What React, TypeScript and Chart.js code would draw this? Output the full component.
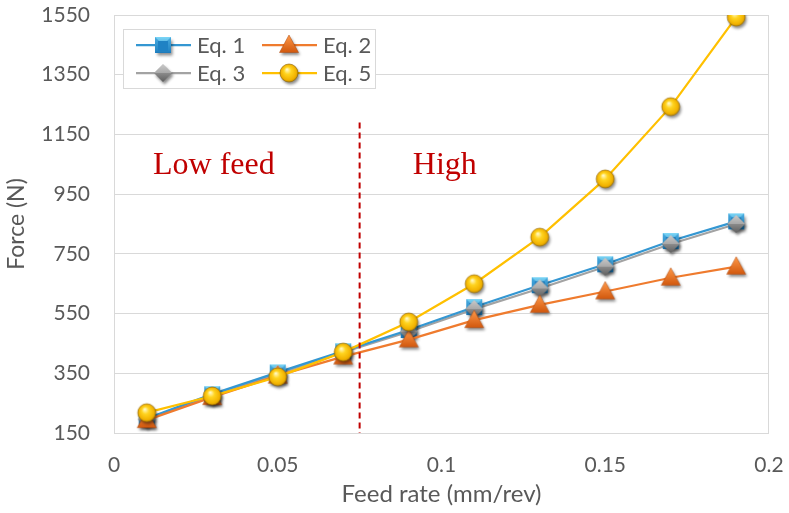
import React, { useEffect, useRef } from 'react';
import { Chart, registerables } from 'chart.js';

Chart.register(...registerables);

const feedRates = [0.01, 0.03, 0.05, 0.07, 0.09, 0.11, 0.13, 0.15, 0.17, 0.19];
const eq1 = [198, 280, 353, 424, 495, 572, 645, 715, 793, 859];
const eq2 = [193, 270, 342, 406, 463, 528, 579, 624, 670, 707];
const eq3 = [196, 276, 348, 421, 489, 565, 634, 707, 783, 850];
const eq5 = [218, 274, 338, 421, 522, 650, 806, 1001, 1243, 1543];

const seriesNames = ['Eq. 1', 'Eq. 2', 'Eq. 3', 'Eq. 5'];
const xTicks = [0, 0.05, 0.1, 0.15, 0.2];
const yTicks = [150, 350, 550, 750, 950, 1150, 1350, 1550];

const boundaryFeed = 0.075;
const boundaryTop = 1190;
const regionLabels = ['Low feed', 'High'];
const regionLabelX = [0.0305, 0.101];
const regionLabelY = 1046;

const BLUE = '#3497D2';
const ORANGE = '#EF7B2E';
const GRAY = '#A3A3A3';
const GOLD = '#FFC000';
const TEXT = '#595959';
const GRID = '#D9D9D9';
const FONT = 'Lato, "Open Sans", sans-serif';

function makeMarker(kind: string): HTMLCanvasElement {
  const size = 30;
  const c = document.createElement('canvas');
  c.width = size;
  c.height = size;
  const ctx = c.getContext('2d') as CanvasRenderingContext2D;
  const m = size / 2;
  const shape = () => {
    ctx.beginPath();
    if (kind === 'square') {
      ctx.rect(m - 8, m - 8, 16, 16);
    } else if (kind === 'diamond') {
      ctx.moveTo(m, m - 9);
      ctx.lineTo(m + 9, m);
      ctx.lineTo(m, m + 9);
      ctx.lineTo(m - 9, m);
      ctx.closePath();
    } else if (kind === 'triangle') {
      ctx.moveTo(m, m - 10);
      ctx.lineTo(m + 9.5, m + 7.5);
      ctx.lineTo(m - 9.5, m + 7.5);
      ctx.closePath();
    } else {
      ctx.arc(m, m, 9, 0, Math.PI * 2);
    }
  };
  ctx.save();
  ctx.shadowColor = 'rgba(0,0,0,0.45)';
  ctx.shadowBlur = 3;
  ctx.shadowOffsetX = 1.5;
  ctx.shadowOffsetY = 2.5;
  shape();
  let g: CanvasGradient;
  if (kind === 'square') {
    g = ctx.createLinearGradient(0, m - 8, 0, m + 8);
    g.addColorStop(0, '#7BD6F7');
    g.addColorStop(1, '#1B79BA');
  } else if (kind === 'diamond') {
    g = ctx.createLinearGradient(0, m - 9, 0, m + 9);
    g.addColorStop(0, '#B8B8B8');
    g.addColorStop(1, '#5E5E5E');
  } else if (kind === 'triangle') {
    g = ctx.createLinearGradient(0, m - 10, 0, m + 8);
    g.addColorStop(0, '#FF9A4A');
    g.addColorStop(1, '#D0560C');
  } else {
    g = ctx.createRadialGradient(m - 2, m - 3.5, 0.5, m, m, 9.5);
    g.addColorStop(0, '#FFF8C0');
    g.addColorStop(0.35, '#FFD420');
    g.addColorStop(0.8, '#F2B200');
    g.addColorStop(1, '#B88600');
  }
  ctx.fillStyle = g;
  ctx.fill();
  ctx.restore();
  if (kind === 'square') {
    ctx.fillStyle = '#2388CB';
    ctx.beginPath();
    ctx.moveTo(m - 8, m - 8);
    ctx.lineTo(m, m);
    ctx.lineTo(m + 8, m - 8);
    ctx.lineTo(m + 8, m + 8);
    ctx.lineTo(m, m);
    ctx.lineTo(m - 8, m + 8);
    ctx.closePath();
    ctx.globalAlpha = 0.55;
    ctx.fill();
    ctx.globalAlpha = 1;
    ctx.fillStyle = '#1F82C4';
    ctx.fillRect(m - 5, m - 4, 10, 10);
  } else if (kind === 'diamond') {
    ctx.fillStyle = 'rgba(255,255,255,0.25)';
    ctx.beginPath();
    ctx.moveTo(m, m - 9);
    ctx.lineTo(m + 9, m);
    ctx.lineTo(m - 9, m);
    ctx.closePath();
    ctx.fill();
  } else if (kind === 'triangle') {
    ctx.strokeStyle = 'rgba(170,70,10,0.6)';
    ctx.lineWidth = 0.8;
    shape();
    ctx.stroke();
  } else {
    ctx.strokeStyle = 'rgba(150,105,0,0.8)';
    ctx.lineWidth = 0.8;
    shape();
    ctx.stroke();
  }
  return c;
}

function pts(values: number[]) {
  return feedRates.map((x, i) => ({ x, y: values[i] }));
}

export default function App() {
  const ref = useRef<HTMLCanvasElement | null>(null);

  useEffect(() => {
    document.body.style.margin = '0';
    const canvas = ref.current;
    if (!canvas) return;
    const sq = makeMarker('square');
    const tri = makeMarker('triangle');
    const dia = makeMarker('diamond');
    const cir = makeMarker('circle');

    const legendItems = [
      { name: seriesNames[0], color: BLUE, img: sq },
      { name: seriesNames[1], color: ORANGE, img: tri },
      { name: seriesNames[2], color: GRAY, img: dia },
      { name: seriesNames[3], color: GOLD, img: cir },
    ];

    const decorations = {
      id: 'decorations',
      beforeDatasetsDraw(chart: any) {
        const { ctx, chartArea } = chart;
        ctx.save();
        ctx.strokeStyle = GRID;
        ctx.lineWidth = 1;
        ctx.strokeRect(chartArea.left + 0.5, chartArea.top + 0.5, chartArea.right - chartArea.left - 1, chartArea.bottom - chartArea.top);
        ctx.restore();
      },
      afterDatasetsDraw(chart: any) {
        const { ctx } = chart;
        const xs = chart.scales.x;
        const ys = chart.scales.y;
        ctx.save();
        const bx = xs.getPixelForValue(boundaryFeed);
        ctx.strokeStyle = '#C00000';
        ctx.lineWidth = 2;
        ctx.setLineDash([6, 4]);
        ctx.beginPath();
        ctx.moveTo(bx, ys.getPixelForValue(boundaryTop));
        ctx.lineTo(bx, ys.getPixelForValue(150));
        ctx.stroke();
        ctx.setLineDash([]);
        ctx.fillStyle = '#C00000';
        ctx.font = '32px "Liberation Serif", "Times New Roman", serif';
        ctx.textAlign = 'center';
        ctx.textBaseline = 'middle';
        regionLabels.forEach((t, i) => {
          ctx.fillText(t, xs.getPixelForValue(regionLabelX[i]), ys.getPixelForValue(regionLabelY));
        });
        ctx.restore();
      },
      afterDraw(chart: any) {
        const { ctx, chartArea } = chart;
        const left = chartArea.left + 9;
        const top = chartArea.top + 14;
        const w = 252;
        const h = 59;
        ctx.save();
        ctx.fillStyle = '#FFFFFF';
        ctx.fillRect(left, top, w, h);
        ctx.strokeStyle = GRID;
        ctx.lineWidth = 1;
        ctx.strokeRect(left + 0.5, top + 0.5, w, h);
        ctx.font = '22px ' + FONT;
        ctx.textBaseline = 'middle';
        ctx.textAlign = 'left';
        legendItems.forEach((it, i) => {
          const col = i % 2;
          const row = Math.floor(i / 2);
          const lx = left + 13 + col * 126;
          const cy = top + 16 + row * 28;
          ctx.strokeStyle = it.color;
          ctx.lineWidth = 2.25;
          ctx.beginPath();
          ctx.moveTo(lx, cy);
          ctx.lineTo(lx + 55, cy);
          ctx.stroke();
          ctx.drawImage(it.img, lx + 27 - it.img.width / 2, cy - it.img.height / 2);
          ctx.fillStyle = TEXT;
          ctx.fillText(it.name, lx + 61, cy + 1);
        });
        ctx.restore();
      },
    };

    const base = { showLine: true, tension: 0, borderWidth: 2.25, pointRadius: 8, pointHoverRadius: 8 };

    const chart = new Chart(canvas, {
      type: 'scatter',
      data: {
        datasets: [
          { ...base, label: seriesNames[3], data: pts(eq5), borderColor: GOLD, backgroundColor: GOLD, pointStyle: cir },
          { ...base, label: seriesNames[1], data: pts(eq2), borderColor: ORANGE, backgroundColor: ORANGE, pointStyle: tri },
          { ...base, label: seriesNames[2], data: pts(eq3), showLine: false, borderColor: GRAY, backgroundColor: GRAY, pointStyle: dia },
          { ...base, label: seriesNames[0], data: pts(eq1), borderColor: BLUE, backgroundColor: BLUE, pointStyle: sq },
          { ...base, label: seriesNames[2] + ' line', data: pts(eq3), borderColor: GRAY, backgroundColor: GRAY, pointRadius: 0 },
        ],
      } as any,
      options: {
        responsive: false,
        animation: false,
        events: [],
        layout: { padding: { left: 0, right: 20, top: 15, bottom: 0 } },
        plugins: { legend: { display: false }, tooltip: { enabled: false } },
        scales: {
          x: {
            type: 'linear',
            min: 0,
            max: 0.2,
            afterBuildTicks: (s: any) => {
              s.ticks = xTicks.map((v) => ({ value: v }));
            },
            afterFit: (s: any) => {
              s.height = 80;
              s.paddingLeft = 0;
              s.paddingRight = 0;
            },
            grid: { display: false, drawTicks: false },
            border: { display: false },
            ticks: { color: TEXT, font: { family: FONT, size: 21 }, padding: 20, maxRotation: 0, callback: (v: any) => String(v) },
            title: { display: true, text: 'Feed rate (mm/rev)', color: TEXT, font: { family: FONT, size: 24 }, padding: { top: 0, bottom: 4 } },
          },
          y: {
            type: 'linear',
            min: 150,
            max: 1550,
            afterBuildTicks: (s: any) => {
              s.ticks = yTicks.map((v) => ({ value: v }));
            },
            afterFit: (s: any) => {
              s.width = 114;
              s.paddingTop = 0;
              s.paddingBottom = 0;
            },
            grid: { color: GRID, lineWidth: 1, drawTicks: false },
            border: { display: true, color: GRID },
            ticks: { color: TEXT, font: { family: FONT, size: 21 }, padding: 24, callback: (v: any) => String(v) },
            title: { display: true, text: 'Force (N)', color: TEXT, font: { family: FONT, size: 23 }, padding: { top: 3, bottom: 0 } },
          },
        },
      } as any,
      plugins: [decorations],
    });
    return () => chart.destroy();
  }, []);

  return (
    <div style={{ width: 789, height: 513, background: '#FFFFFF' }}>
      <canvas ref={ref} width={789} height={513} />
    </div>
  );
}
